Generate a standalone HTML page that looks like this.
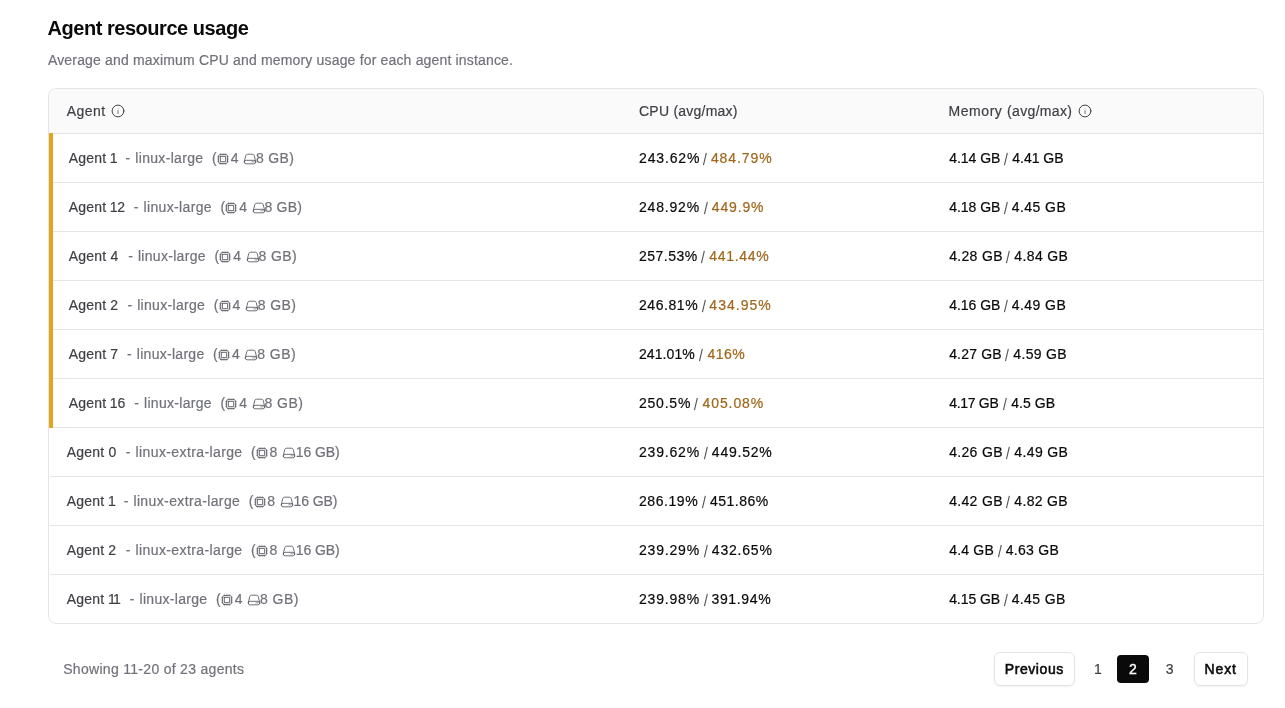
<!DOCTYPE html>
<html><head><meta charset="utf-8"><title>Agent resource usage</title>
<style>
*{box-sizing:border-box;margin:0;padding:0}
html,body{width:1285px;height:708px;overflow:hidden;background:#fff}
body{font-family:"Liberation Sans",sans-serif;color:#18181b;position:relative}
#root{position:absolute;left:0;top:0;width:1285px;height:708px;will-change:transform}
.tbl{position:absolute;left:48px;top:88px;width:1216px;height:536px;border:1px solid #e5e5e5;border-radius:8px;overflow:hidden;background:#fff}
.hdr{position:absolute;left:0;top:0;width:100%;height:45px;background:#fafafa;border-bottom:1px solid #e5e5e5}
.rl{position:absolute;left:1px;right:0;height:1px;background:#e5e5e5}
.bar{position:absolute;left:0;width:4px;background:#e3a51a}
.w{position:absolute;white-space:pre;font-size:14px;line-height:16px;-webkit-text-stroke:0.2px currentColor}
.ic{position:absolute;width:14px;height:14px}
.ic svg{display:block}
.nm{color:#3f3f46}
.ty{color:#71717a}
.v{color:#0a0a0a}
.mx{color:#a0661a}
.sl{color:#71717a}
.hd{color:#3f3f46}
.title{font-size:20px;line-height:26px;font-weight:700;color:#0a0a0a;-webkit-text-stroke:0}
.sub{line-height:18px;color:#71717a}
.foot{line-height:18px;color:#71717a}
.btxt{line-height:18px;font-weight:400;color:#0a0a0a;-webkit-text-stroke:0.55px #0a0a0a}
.pgn{line-height:18px;color:#3f3f46}
.btn{position:absolute;top:652px;height:34px;border:1px solid #e4e4e7;border-radius:6px;background:#fff;box-shadow:0 1px 2px rgba(0,0,0,0.05)}
.pgon{position:absolute;left:1117px;top:655px;width:32px;height:28px;background:#0a0a0a;border-radius:4px;color:#fff;font-size:14px;line-height:28px;text-align:center;-webkit-text-stroke:0.35px #fff}
</style></head><body>
<div id="root">
<div class="tbl">
<div class="hdr"></div>
<div class="rl" style="top:93px"></div><div class="rl" style="top:142px"></div><div class="rl" style="top:191px"></div><div class="rl" style="top:240px"></div><div class="rl" style="top:289px"></div><div class="rl" style="top:338px"></div><div class="rl" style="top:387px"></div><div class="rl" style="top:436px"></div><div class="rl" style="top:485px"></div>
<div class="bar" style="top:44px;height:295px"></div>
</div>
<div class="btn" style="left:994px;width:81px"></div>
<div class="btn" style="left:1194px;width:54px"></div>
<div class="pgon">2</div>
<div class="ic" style="left:111px;top:104px"><svg width="14" height="14" viewBox="0 0 24 24" fill="none" stroke="#3f3f46" stroke-width="1.7" stroke-linecap="round" stroke-linejoin="round"><circle cx="12" cy="12" r="10.1"/><path d="M12 16.4v-5" stroke="#71717a"/><path d="M12 8.2h.01" stroke="#a1a1aa"/></svg></div>
<div class="ic" style="left:1078px;top:104px"><svg width="14" height="14" viewBox="0 0 24 24" fill="none" stroke="#3f3f46" stroke-width="1.7" stroke-linecap="round" stroke-linejoin="round"><circle cx="12" cy="12" r="10.1"/><path d="M12 16.4v-5" stroke="#71717a"/><path d="M12 8.2h.01" stroke="#a1a1aa"/></svg></div>
<div class="ic" style="left:215.80px;top:151.50px"><svg width="14" height="14" viewBox="0 0 24 24" fill="none" stroke="#5f5f68" stroke-width="1.55" stroke-linecap="round" stroke-linejoin="round"><path d="M8.25 3v1.5M4.5 8.25H3m18 0h-1.5M4.5 12H3m18 0h-1.5m-15 3.75H3m18 0h-1.5M8.25 19.5V21M12 3v1.5m0 15V21m3.75-18v1.5m0 15V21m-9-1.5h10.5a2.25 2.25 0 0 0 2.25-2.25V6.75a2.25 2.25 0 0 0-2.25-2.25H6.75A2.25 2.25 0 0 0 4.5 6.75v10.5a2.25 2.25 0 0 0 2.25 2.25Zm.75-12h9v9h-9v-9Z"/></svg></div>
<div class="ic" style="left:243.20px;top:151.60px"><svg width="14" height="14" viewBox="0 0 24 24" fill="none" stroke="#5f5f68" stroke-width="1.55" stroke-linecap="round" stroke-linejoin="round"><path d="M21.75 17.25v-.228a4.5 4.5 0 0 0-.12-1.03l-2.268-9.64a3.375 3.375 0 0 0-3.285-2.602H7.923a3.375 3.375 0 0 0-3.285 2.602l-2.268 9.64a4.5 4.5 0 0 0-.12 1.03v.228m19.5 0a3 3 0 0 1-3 3H5.25a3 3 0 0 1-3-3m19.5 0a3 3 0 0 0-3-3H5.25a3 3 0 0 0-3 3m16.5 0h.008v.008h-.008v-.008Zm-3 0h.008v.008h-.008v-.008Z"/></svg></div>
<div class="ic" style="left:224.30px;top:200.50px"><svg width="14" height="14" viewBox="0 0 24 24" fill="none" stroke="#5f5f68" stroke-width="1.55" stroke-linecap="round" stroke-linejoin="round"><path d="M8.25 3v1.5M4.5 8.25H3m18 0h-1.5M4.5 12H3m18 0h-1.5m-15 3.75H3m18 0h-1.5M8.25 19.5V21M12 3v1.5m0 15V21m3.75-18v1.5m0 15V21m-9-1.5h10.5a2.25 2.25 0 0 0 2.25-2.25V6.75a2.25 2.25 0 0 0-2.25-2.25H6.75A2.25 2.25 0 0 0 4.5 6.75v10.5a2.25 2.25 0 0 0 2.25 2.25Zm.75-12h9v9h-9v-9Z"/></svg></div>
<div class="ic" style="left:251.70px;top:200.60px"><svg width="14" height="14" viewBox="0 0 24 24" fill="none" stroke="#5f5f68" stroke-width="1.55" stroke-linecap="round" stroke-linejoin="round"><path d="M21.75 17.25v-.228a4.5 4.5 0 0 0-.12-1.03l-2.268-9.64a3.375 3.375 0 0 0-3.285-2.602H7.923a3.375 3.375 0 0 0-3.285 2.602l-2.268 9.64a4.5 4.5 0 0 0-.12 1.03v.228m19.5 0a3 3 0 0 1-3 3H5.25a3 3 0 0 1-3-3m19.5 0a3 3 0 0 0-3-3H5.25a3 3 0 0 0-3 3m16.5 0h.008v.008h-.008v-.008Zm-3 0h.008v.008h-.008v-.008Z"/></svg></div>
<div class="ic" style="left:218.20px;top:249.50px"><svg width="14" height="14" viewBox="0 0 24 24" fill="none" stroke="#5f5f68" stroke-width="1.55" stroke-linecap="round" stroke-linejoin="round"><path d="M8.25 3v1.5M4.5 8.25H3m18 0h-1.5M4.5 12H3m18 0h-1.5m-15 3.75H3m18 0h-1.5M8.25 19.5V21M12 3v1.5m0 15V21m3.75-18v1.5m0 15V21m-9-1.5h10.5a2.25 2.25 0 0 0 2.25-2.25V6.75a2.25 2.25 0 0 0-2.25-2.25H6.75A2.25 2.25 0 0 0 4.5 6.75v10.5a2.25 2.25 0 0 0 2.25 2.25Zm.75-12h9v9h-9v-9Z"/></svg></div>
<div class="ic" style="left:245.60px;top:249.60px"><svg width="14" height="14" viewBox="0 0 24 24" fill="none" stroke="#5f5f68" stroke-width="1.55" stroke-linecap="round" stroke-linejoin="round"><path d="M21.75 17.25v-.228a4.5 4.5 0 0 0-.12-1.03l-2.268-9.64a3.375 3.375 0 0 0-3.285-2.602H7.923a3.375 3.375 0 0 0-3.285 2.602l-2.268 9.64a4.5 4.5 0 0 0-.12 1.03v.228m19.5 0a3 3 0 0 1-3 3H5.25a3 3 0 0 1-3-3m19.5 0a3 3 0 0 0-3-3H5.25a3 3 0 0 0-3 3m16.5 0h.008v.008h-.008v-.008Zm-3 0h.008v.008h-.008v-.008Z"/></svg></div>
<div class="ic" style="left:217.50px;top:298.50px"><svg width="14" height="14" viewBox="0 0 24 24" fill="none" stroke="#5f5f68" stroke-width="1.55" stroke-linecap="round" stroke-linejoin="round"><path d="M8.25 3v1.5M4.5 8.25H3m18 0h-1.5M4.5 12H3m18 0h-1.5m-15 3.75H3m18 0h-1.5M8.25 19.5V21M12 3v1.5m0 15V21m3.75-18v1.5m0 15V21m-9-1.5h10.5a2.25 2.25 0 0 0 2.25-2.25V6.75a2.25 2.25 0 0 0-2.25-2.25H6.75A2.25 2.25 0 0 0 4.5 6.75v10.5a2.25 2.25 0 0 0 2.25 2.25Zm.75-12h9v9h-9v-9Z"/></svg></div>
<div class="ic" style="left:244.90px;top:298.60px"><svg width="14" height="14" viewBox="0 0 24 24" fill="none" stroke="#5f5f68" stroke-width="1.55" stroke-linecap="round" stroke-linejoin="round"><path d="M21.75 17.25v-.228a4.5 4.5 0 0 0-.12-1.03l-2.268-9.64a3.375 3.375 0 0 0-3.285-2.602H7.923a3.375 3.375 0 0 0-3.285 2.602l-2.268 9.64a4.5 4.5 0 0 0-.12 1.03v.228m19.5 0a3 3 0 0 1-3 3H5.25a3 3 0 0 1-3-3m19.5 0a3 3 0 0 0-3-3H5.25a3 3 0 0 0-3 3m16.5 0h.008v.008h-.008v-.008Zm-3 0h.008v.008h-.008v-.008Z"/></svg></div>
<div class="ic" style="left:216.90px;top:347.50px"><svg width="14" height="14" viewBox="0 0 24 24" fill="none" stroke="#5f5f68" stroke-width="1.55" stroke-linecap="round" stroke-linejoin="round"><path d="M8.25 3v1.5M4.5 8.25H3m18 0h-1.5M4.5 12H3m18 0h-1.5m-15 3.75H3m18 0h-1.5M8.25 19.5V21M12 3v1.5m0 15V21m3.75-18v1.5m0 15V21m-9-1.5h10.5a2.25 2.25 0 0 0 2.25-2.25V6.75a2.25 2.25 0 0 0-2.25-2.25H6.75A2.25 2.25 0 0 0 4.5 6.75v10.5a2.25 2.25 0 0 0 2.25 2.25Zm.75-12h9v9h-9v-9Z"/></svg></div>
<div class="ic" style="left:244.30px;top:347.60px"><svg width="14" height="14" viewBox="0 0 24 24" fill="none" stroke="#5f5f68" stroke-width="1.55" stroke-linecap="round" stroke-linejoin="round"><path d="M21.75 17.25v-.228a4.5 4.5 0 0 0-.12-1.03l-2.268-9.64a3.375 3.375 0 0 0-3.285-2.602H7.923a3.375 3.375 0 0 0-3.285 2.602l-2.268 9.64a4.5 4.5 0 0 0-.12 1.03v.228m19.5 0a3 3 0 0 1-3 3H5.25a3 3 0 0 1-3-3m19.5 0a3 3 0 0 0-3-3H5.25a3 3 0 0 0-3 3m16.5 0h.008v.008h-.008v-.008Zm-3 0h.008v.008h-.008v-.008Z"/></svg></div>
<div class="ic" style="left:224.30px;top:396.50px"><svg width="14" height="14" viewBox="0 0 24 24" fill="none" stroke="#5f5f68" stroke-width="1.55" stroke-linecap="round" stroke-linejoin="round"><path d="M8.25 3v1.5M4.5 8.25H3m18 0h-1.5M4.5 12H3m18 0h-1.5m-15 3.75H3m18 0h-1.5M8.25 19.5V21M12 3v1.5m0 15V21m3.75-18v1.5m0 15V21m-9-1.5h10.5a2.25 2.25 0 0 0 2.25-2.25V6.75a2.25 2.25 0 0 0-2.25-2.25H6.75A2.25 2.25 0 0 0 4.5 6.75v10.5a2.25 2.25 0 0 0 2.25 2.25Zm.75-12h9v9h-9v-9Z"/></svg></div>
<div class="ic" style="left:251.70px;top:396.60px"><svg width="14" height="14" viewBox="0 0 24 24" fill="none" stroke="#5f5f68" stroke-width="1.55" stroke-linecap="round" stroke-linejoin="round"><path d="M21.75 17.25v-.228a4.5 4.5 0 0 0-.12-1.03l-2.268-9.64a3.375 3.375 0 0 0-3.285-2.602H7.923a3.375 3.375 0 0 0-3.285 2.602l-2.268 9.64a4.5 4.5 0 0 0-.12 1.03v.228m19.5 0a3 3 0 0 1-3 3H5.25a3 3 0 0 1-3-3m19.5 0a3 3 0 0 0-3-3H5.25a3 3 0 0 0-3 3m16.5 0h.008v.008h-.008v-.008Zm-3 0h.008v.008h-.008v-.008Z"/></svg></div>
<div class="ic" style="left:254.80px;top:445.50px"><svg width="14" height="14" viewBox="0 0 24 24" fill="none" stroke="#5f5f68" stroke-width="1.55" stroke-linecap="round" stroke-linejoin="round"><path d="M8.25 3v1.5M4.5 8.25H3m18 0h-1.5M4.5 12H3m18 0h-1.5m-15 3.75H3m18 0h-1.5M8.25 19.5V21M12 3v1.5m0 15V21m3.75-18v1.5m0 15V21m-9-1.5h10.5a2.25 2.25 0 0 0 2.25-2.25V6.75a2.25 2.25 0 0 0-2.25-2.25H6.75A2.25 2.25 0 0 0 4.5 6.75v10.5a2.25 2.25 0 0 0 2.25 2.25Zm.75-12h9v9h-9v-9Z"/></svg></div>
<div class="ic" style="left:282.20px;top:445.60px"><svg width="14" height="14" viewBox="0 0 24 24" fill="none" stroke="#5f5f68" stroke-width="1.55" stroke-linecap="round" stroke-linejoin="round"><path d="M21.75 17.25v-.228a4.5 4.5 0 0 0-.12-1.03l-2.268-9.64a3.375 3.375 0 0 0-3.285-2.602H7.923a3.375 3.375 0 0 0-3.285 2.602l-2.268 9.64a4.5 4.5 0 0 0-.12 1.03v.228m19.5 0a3 3 0 0 1-3 3H5.25a3 3 0 0 1-3-3m19.5 0a3 3 0 0 0-3-3H5.25a3 3 0 0 0-3 3m16.5 0h.008v.008h-.008v-.008Zm-3 0h.008v.008h-.008v-.008Z"/></svg></div>
<div class="ic" style="left:252.50px;top:494.50px"><svg width="14" height="14" viewBox="0 0 24 24" fill="none" stroke="#5f5f68" stroke-width="1.55" stroke-linecap="round" stroke-linejoin="round"><path d="M8.25 3v1.5M4.5 8.25H3m18 0h-1.5M4.5 12H3m18 0h-1.5m-15 3.75H3m18 0h-1.5M8.25 19.5V21M12 3v1.5m0 15V21m3.75-18v1.5m0 15V21m-9-1.5h10.5a2.25 2.25 0 0 0 2.25-2.25V6.75a2.25 2.25 0 0 0-2.25-2.25H6.75A2.25 2.25 0 0 0 4.5 6.75v10.5a2.25 2.25 0 0 0 2.25 2.25Zm.75-12h9v9h-9v-9Z"/></svg></div>
<div class="ic" style="left:279.90px;top:494.60px"><svg width="14" height="14" viewBox="0 0 24 24" fill="none" stroke="#5f5f68" stroke-width="1.55" stroke-linecap="round" stroke-linejoin="round"><path d="M21.75 17.25v-.228a4.5 4.5 0 0 0-.12-1.03l-2.268-9.64a3.375 3.375 0 0 0-3.285-2.602H7.923a3.375 3.375 0 0 0-3.285 2.602l-2.268 9.64a4.5 4.5 0 0 0-.12 1.03v.228m19.5 0a3 3 0 0 1-3 3H5.25a3 3 0 0 1-3-3m19.5 0a3 3 0 0 0-3-3H5.25a3 3 0 0 0-3 3m16.5 0h.008v.008h-.008v-.008Zm-3 0h.008v.008h-.008v-.008Z"/></svg></div>
<div class="ic" style="left:254.80px;top:543.50px"><svg width="14" height="14" viewBox="0 0 24 24" fill="none" stroke="#5f5f68" stroke-width="1.55" stroke-linecap="round" stroke-linejoin="round"><path d="M8.25 3v1.5M4.5 8.25H3m18 0h-1.5M4.5 12H3m18 0h-1.5m-15 3.75H3m18 0h-1.5M8.25 19.5V21M12 3v1.5m0 15V21m3.75-18v1.5m0 15V21m-9-1.5h10.5a2.25 2.25 0 0 0 2.25-2.25V6.75a2.25 2.25 0 0 0-2.25-2.25H6.75A2.25 2.25 0 0 0 4.5 6.75v10.5a2.25 2.25 0 0 0 2.25 2.25Zm.75-12h9v9h-9v-9Z"/></svg></div>
<div class="ic" style="left:282.20px;top:543.60px"><svg width="14" height="14" viewBox="0 0 24 24" fill="none" stroke="#5f5f68" stroke-width="1.55" stroke-linecap="round" stroke-linejoin="round"><path d="M21.75 17.25v-.228a4.5 4.5 0 0 0-.12-1.03l-2.268-9.64a3.375 3.375 0 0 0-3.285-2.602H7.923a3.375 3.375 0 0 0-3.285 2.602l-2.268 9.64a4.5 4.5 0 0 0-.12 1.03v.228m19.5 0a3 3 0 0 1-3 3H5.25a3 3 0 0 1-3-3m19.5 0a3 3 0 0 0-3-3H5.25a3 3 0 0 0-3 3m16.5 0h.008v.008h-.008v-.008Zm-3 0h.008v.008h-.008v-.008Z"/></svg></div>
<div class="ic" style="left:219.80px;top:592.50px"><svg width="14" height="14" viewBox="0 0 24 24" fill="none" stroke="#5f5f68" stroke-width="1.55" stroke-linecap="round" stroke-linejoin="round"><path d="M8.25 3v1.5M4.5 8.25H3m18 0h-1.5M4.5 12H3m18 0h-1.5m-15 3.75H3m18 0h-1.5M8.25 19.5V21M12 3v1.5m0 15V21m3.75-18v1.5m0 15V21m-9-1.5h10.5a2.25 2.25 0 0 0 2.25-2.25V6.75a2.25 2.25 0 0 0-2.25-2.25H6.75A2.25 2.25 0 0 0 4.5 6.75v10.5a2.25 2.25 0 0 0 2.25 2.25Zm.75-12h9v9h-9v-9Z"/></svg></div>
<div class="ic" style="left:247.20px;top:592.60px"><svg width="14" height="14" viewBox="0 0 24 24" fill="none" stroke="#5f5f68" stroke-width="1.55" stroke-linecap="round" stroke-linejoin="round"><path d="M21.75 17.25v-.228a4.5 4.5 0 0 0-.12-1.03l-2.268-9.64a3.375 3.375 0 0 0-3.285-2.602H7.923a3.375 3.375 0 0 0-3.285 2.602l-2.268 9.64a4.5 4.5 0 0 0-.12 1.03v.228m19.5 0a3 3 0 0 1-3 3H5.25a3 3 0 0 1-3-3m19.5 0a3 3 0 0 0-3-3H5.25a3 3 0 0 0-3 3m16.5 0h.008v.008h-.008v-.008Zm-3 0h.008v.008h-.008v-.008Z"/></svg></div>
<span class="w nm" style="left:68.80px;top:150px;letter-spacing:0.165px">Agent</span>
<span class="w nm" style="left:109.87px;top:150px">1</span>
<span class="w ty" style="left:125.51px;top:150px">-</span>
<span class="w ty" style="left:135.25px;top:150px;letter-spacing:0.329px">linux-large</span>
<span class="w ty" style="left:211.99px;top:150px">(</span>
<span class="w ty" style="left:230.85px;top:150px">4</span>
<span class="w ty" style="left:256.03px;top:150px;letter-spacing:0.308px">8 GB)</span>
<span class="w v" style="left:638.99px;top:150px;letter-spacing:0.858px">243.62%</span>
<svg class="ic" style="left:701.90px;top:150px;width:6px;height:16px" width="6" height="16" viewBox="0 0 6 16"><line x1="1.45" y1="15.1" x2="4.35" y2="2.9" stroke="#52525b" stroke-width="1.1"/></svg>
<span class="w mx" style="left:710.95px;top:150px;letter-spacing:0.898px">484.79%</span>
<span class="w v" style="left:949.15px;top:150px;letter-spacing:-0.023px">4.14 GB</span>
<svg class="ic" style="left:1003.30px;top:150px;width:6px;height:16px" width="6" height="16" viewBox="0 0 6 16"><line x1="1.45" y1="15.1" x2="4.35" y2="2.9" stroke="#52525b" stroke-width="1.1"/></svg>
<span class="w v" style="left:1012.25px;top:150px;letter-spacing:-0.007px">4.41 GB</span>
<span class="w nm" style="left:68.80px;top:199px;letter-spacing:0.165px">Agent</span>
<span class="w nm" style="left:109.87px;top:199px;letter-spacing:-0.380px">12</span>
<span class="w ty" style="left:133.76px;top:199px">-</span>
<span class="w ty" style="left:143.50px;top:199px;letter-spacing:0.354px">linux-large</span>
<span class="w ty" style="left:220.49px;top:199px">(</span>
<span class="w ty" style="left:239.35px;top:199px">4</span>
<span class="w ty" style="left:264.53px;top:199px;letter-spacing:0.208px">8 GB)</span>
<span class="w v" style="left:638.99px;top:199px;letter-spacing:0.808px">248.92%</span>
<svg class="ic" style="left:702.50px;top:199px;width:6px;height:16px" width="6" height="16" viewBox="0 0 6 16"><line x1="1.45" y1="15.1" x2="4.35" y2="2.9" stroke="#52525b" stroke-width="1.1"/></svg>
<span class="w mx" style="left:711.85px;top:199px;letter-spacing:0.848px">449.9%</span>
<span class="w v" style="left:949.15px;top:199px;letter-spacing:-0.023px">4.18 GB</span>
<svg class="ic" style="left:1003.10px;top:199px;width:6px;height:16px" width="6" height="16" viewBox="0 0 6 16"><line x1="1.45" y1="15.1" x2="4.35" y2="2.9" stroke="#52525b" stroke-width="1.1"/></svg>
<span class="w v" style="left:1011.85px;top:199px;letter-spacing:0.427px">4.45 GB</span>
<span class="w nm" style="left:68.80px;top:248px;letter-spacing:0.165px">Agent</span>
<span class="w nm" style="left:110.60px;top:248px">4</span>
<span class="w ty" style="left:128.16px;top:248px">-</span>
<span class="w ty" style="left:137.90px;top:248px;letter-spacing:0.304px">linux-large</span>
<span class="w ty" style="left:214.39px;top:248px">(</span>
<span class="w ty" style="left:233.25px;top:248px">4</span>
<span class="w ty" style="left:258.43px;top:248px;letter-spacing:0.432px">8 GB)</span>
<span class="w v" style="left:638.99px;top:248px;letter-spacing:0.492px">257.53%</span>
<svg class="ic" style="left:700.00px;top:248px;width:6px;height:16px" width="6" height="16" viewBox="0 0 6 16"><line x1="1.45" y1="15.1" x2="4.35" y2="2.9" stroke="#52525b" stroke-width="1.1"/></svg>
<span class="w mx" style="left:709.35px;top:248px;letter-spacing:0.665px">441.44%</span>
<span class="w v" style="left:949.15px;top:248px;letter-spacing:0.327px">4.28 GB</span>
<svg class="ic" style="left:1005.00px;top:248px;width:6px;height:16px" width="6" height="16" viewBox="0 0 6 16"><line x1="1.45" y1="15.1" x2="4.35" y2="2.9" stroke="#52525b" stroke-width="1.1"/></svg>
<span class="w v" style="left:1014.35px;top:248px;letter-spacing:0.360px">4.84 GB</span>
<span class="w nm" style="left:68.80px;top:297px;letter-spacing:0.165px">Agent</span>
<span class="w nm" style="left:110.24px;top:297px">2</span>
<span class="w ty" style="left:127.46px;top:297px">-</span>
<span class="w ty" style="left:137.20px;top:297px;letter-spacing:0.304px">linux-large</span>
<span class="w ty" style="left:213.69px;top:297px">(</span>
<span class="w ty" style="left:232.55px;top:297px">4</span>
<span class="w ty" style="left:257.73px;top:297px;letter-spacing:0.433px">8 GB)</span>
<span class="w v" style="left:638.99px;top:297px;letter-spacing:0.558px">246.81%</span>
<svg class="ic" style="left:700.50px;top:297px;width:6px;height:16px" width="6" height="16" viewBox="0 0 6 16"><line x1="1.45" y1="15.1" x2="4.35" y2="2.9" stroke="#52525b" stroke-width="1.1"/></svg>
<span class="w mx" style="left:709.35px;top:297px;letter-spacing:1.015px">434.95%</span>
<span class="w v" style="left:949.15px;top:297px;letter-spacing:-0.023px">4.16 GB</span>
<svg class="ic" style="left:1003.10px;top:297px;width:6px;height:16px" width="6" height="16" viewBox="0 0 6 16"><line x1="1.45" y1="15.1" x2="4.35" y2="2.9" stroke="#52525b" stroke-width="1.1"/></svg>
<span class="w v" style="left:1011.85px;top:297px;letter-spacing:0.427px">4.49 GB</span>
<span class="w nm" style="left:68.80px;top:346px;letter-spacing:0.165px">Agent</span>
<span class="w nm" style="left:110.23px;top:346px">7</span>
<span class="w ty" style="left:127.06px;top:346px">-</span>
<span class="w ty" style="left:136.80px;top:346px;letter-spacing:0.284px">linux-large</span>
<span class="w ty" style="left:213.09px;top:346px">(</span>
<span class="w ty" style="left:231.95px;top:346px">4</span>
<span class="w ty" style="left:257.13px;top:346px;letter-spacing:0.482px">8 GB)</span>
<span class="w v" style="left:638.99px;top:346px;letter-spacing:0.075px">241.01%</span>
<svg class="ic" style="left:698.10px;top:346px;width:6px;height:16px" width="6" height="16" viewBox="0 0 6 16"><line x1="1.45" y1="15.1" x2="4.35" y2="2.9" stroke="#52525b" stroke-width="1.1"/></svg>
<span class="w mx" style="left:707.45px;top:346px;letter-spacing:0.457px">416%</span>
<span class="w v" style="left:949.15px;top:346px;letter-spacing:0.193px">4.27 GB</span>
<svg class="ic" style="left:1004.00px;top:346px;width:6px;height:16px" width="6" height="16" viewBox="0 0 6 16"><line x1="1.45" y1="15.1" x2="4.35" y2="2.9" stroke="#52525b" stroke-width="1.1"/></svg>
<span class="w v" style="left:1013.35px;top:346px;letter-spacing:0.327px">4.59 GB</span>
<span class="w nm" style="left:68.80px;top:395px;letter-spacing:0.165px">Agent</span>
<span class="w nm" style="left:109.87px;top:395px;letter-spacing:-0.130px">16</span>
<span class="w ty" style="left:134.26px;top:395px">-</span>
<span class="w ty" style="left:144.00px;top:395px;letter-spacing:0.304px">linux-large</span>
<span class="w ty" style="left:220.49px;top:395px">(</span>
<span class="w ty" style="left:239.35px;top:395px">4</span>
<span class="w ty" style="left:264.53px;top:395px;letter-spacing:0.433px">8 GB)</span>
<span class="w v" style="left:638.99px;top:395px;letter-spacing:0.780px">250.5%</span>
<svg class="ic" style="left:693.10px;top:395px;width:6px;height:16px" width="6" height="16" viewBox="0 0 6 16"><line x1="1.45" y1="15.1" x2="4.35" y2="2.9" stroke="#52525b" stroke-width="1.1"/></svg>
<span class="w mx" style="left:702.55px;top:395px;letter-spacing:0.898px">405.08%</span>
<span class="w v" style="left:949.15px;top:395px;letter-spacing:-0.290px">4.17 GB</span>
<svg class="ic" style="left:1001.90px;top:395px;width:6px;height:16px" width="6" height="16" viewBox="0 0 6 16"><line x1="1.45" y1="15.1" x2="4.35" y2="2.9" stroke="#52525b" stroke-width="1.1"/></svg>
<span class="w v" style="left:1011.25px;top:395px;letter-spacing:0.064px">4.5 GB</span>
<span class="w nm" style="left:66.80px;top:444px;letter-spacing:0.165px">Agent</span>
<span class="w nm" style="left:108.40px;top:444px">0</span>
<span class="w ty" style="left:125.86px;top:444px">-</span>
<span class="w ty" style="left:135.60px;top:444px;letter-spacing:0.386px">linux-extra-large</span>
<span class="w ty" style="left:250.99px;top:444px">(</span>
<span class="w ty" style="left:269.53px;top:444px">8</span>
<span class="w ty" style="left:295.82px;top:444px;letter-spacing:-0.104px">16 GB)</span>
<span class="w v" style="left:638.99px;top:444px;letter-spacing:0.808px">239.62%</span>
<svg class="ic" style="left:702.50px;top:444px;width:6px;height:16px" width="6" height="16" viewBox="0 0 6 16"><line x1="1.45" y1="15.1" x2="4.35" y2="2.9" stroke="#52525b" stroke-width="1.1"/></svg>
<span class="w v" style="left:711.85px;top:444px;letter-spacing:0.765px">449.52%</span>
<span class="w v" style="left:949.15px;top:444px;letter-spacing:0.327px">4.26 GB</span>
<svg class="ic" style="left:1005.00px;top:444px;width:6px;height:16px" width="6" height="16" viewBox="0 0 6 16"><line x1="1.45" y1="15.1" x2="4.35" y2="2.9" stroke="#52525b" stroke-width="1.1"/></svg>
<span class="w v" style="left:1014.35px;top:444px;letter-spacing:0.360px">4.49 GB</span>
<span class="w nm" style="left:66.80px;top:493px;letter-spacing:0.165px">Agent</span>
<span class="w nm" style="left:107.92px;top:493px">1</span>
<span class="w ty" style="left:123.66px;top:493px">-</span>
<span class="w ty" style="left:133.40px;top:493px;letter-spacing:0.380px">linux-extra-large</span>
<span class="w ty" style="left:248.69px;top:493px">(</span>
<span class="w ty" style="left:267.23px;top:493px">8</span>
<span class="w ty" style="left:293.52px;top:493px;letter-spacing:-0.104px">16 GB)</span>
<span class="w v" style="left:638.99px;top:493px;letter-spacing:0.558px">286.19%</span>
<svg class="ic" style="left:700.70px;top:493px;width:6px;height:16px" width="6" height="16" viewBox="0 0 6 16"><line x1="1.45" y1="15.1" x2="4.35" y2="2.9" stroke="#52525b" stroke-width="1.1"/></svg>
<span class="w v" style="left:709.95px;top:493px;letter-spacing:0.498px">451.86%</span>
<span class="w v" style="left:949.15px;top:493px;letter-spacing:0.327px">4.42 GB</span>
<svg class="ic" style="left:1005.00px;top:493px;width:6px;height:16px" width="6" height="16" viewBox="0 0 6 16"><line x1="1.45" y1="15.1" x2="4.35" y2="2.9" stroke="#52525b" stroke-width="1.1"/></svg>
<span class="w v" style="left:1014.35px;top:493px;letter-spacing:0.327px">4.82 GB</span>
<span class="w nm" style="left:66.80px;top:542px;letter-spacing:0.165px">Agent</span>
<span class="w nm" style="left:108.29px;top:542px">2</span>
<span class="w ty" style="left:125.86px;top:542px">-</span>
<span class="w ty" style="left:135.60px;top:542px;letter-spacing:0.386px">linux-extra-large</span>
<span class="w ty" style="left:250.99px;top:542px">(</span>
<span class="w ty" style="left:269.53px;top:542px">8</span>
<span class="w ty" style="left:295.82px;top:542px;letter-spacing:-0.104px">16 GB)</span>
<span class="w v" style="left:638.99px;top:542px;letter-spacing:0.808px">239.29%</span>
<svg class="ic" style="left:702.50px;top:542px;width:6px;height:16px" width="6" height="16" viewBox="0 0 6 16"><line x1="1.45" y1="15.1" x2="4.35" y2="2.9" stroke="#52525b" stroke-width="1.1"/></svg>
<span class="w v" style="left:711.85px;top:542px;letter-spacing:0.798px">432.65%</span>
<span class="w v" style="left:949.15px;top:542px;letter-spacing:0.204px">4.4 GB</span>
<svg class="ic" style="left:996.50px;top:542px;width:6px;height:16px" width="6" height="16" viewBox="0 0 6 16"><line x1="1.45" y1="15.1" x2="4.35" y2="2.9" stroke="#52525b" stroke-width="1.1"/></svg>
<span class="w v" style="left:1005.65px;top:542px;letter-spacing:0.310px">4.63 GB</span>
<span class="w nm" style="left:66.80px;top:591px;letter-spacing:0.165px">Agent</span>
<span class="w nm" style="left:107.92px;top:591px;letter-spacing:-1.760px">11</span>
<span class="w ty" style="left:129.76px;top:591px">-</span>
<span class="w ty" style="left:139.50px;top:591px;letter-spacing:0.304px">linux-large</span>
<span class="w ty" style="left:215.99px;top:591px">(</span>
<span class="w ty" style="left:234.85px;top:591px">4</span>
<span class="w ty" style="left:260.03px;top:591px;letter-spacing:0.433px">8 GB)</span>
<span class="w v" style="left:638.99px;top:591px;letter-spacing:0.808px">239.98%</span>
<svg class="ic" style="left:702.50px;top:591px;width:6px;height:16px" width="6" height="16" viewBox="0 0 6 16"><line x1="1.45" y1="15.1" x2="4.35" y2="2.9" stroke="#52525b" stroke-width="1.1"/></svg>
<span class="w v" style="left:711.49px;top:591px;letter-spacing:0.658px">391.94%</span>
<span class="w v" style="left:949.15px;top:591px;letter-spacing:-0.073px">4.15 GB</span>
<svg class="ic" style="left:1002.50px;top:591px;width:6px;height:16px" width="6" height="16" viewBox="0 0 6 16"><line x1="1.45" y1="15.1" x2="4.35" y2="2.9" stroke="#52525b" stroke-width="1.1"/></svg>
<span class="w v" style="left:1011.65px;top:591px;letter-spacing:0.393px">4.45 GB</span>
<span class="w hd" style="left:66.85px;top:103px;letter-spacing:0.428px">Agent</span>
<span class="w hd" style="left:639.04px;top:103px;letter-spacing:0.227px">CPU (avg/max)</span>
<span class="w hd" style="left:948.52px;top:103px;letter-spacing:0.558px">Memory</span>
<span class="w hd" style="left:1007.09px;top:103px;letter-spacing:0.331px">(avg/max)</span>
<span class="w title" style="left:47.52px;top:15px;letter-spacing:-0.462px">Agent resource usage</span>
<span class="w sub" style="left:47.95px;top:51px;letter-spacing:0.169px">Average and maximum CPU and memory usage for each agent instance.</span>
<span class="w foot" style="left:63.23px;top:660px;letter-spacing:0.299px">Showing 11-20 of 23 agents</span>
<span class="w btxt" style="left:1004.72px;top:660px;letter-spacing:0.590px">Previous</span>
<span class="w btxt" style="left:1204.52px;top:660px;letter-spacing:0.863px">Next</span>
<span class="w pgn" style="left:1093.92px;top:660px">1</span>
<span class="w pgn" style="left:1165.79px;top:660px">3</span>
</div>
</body></html>
